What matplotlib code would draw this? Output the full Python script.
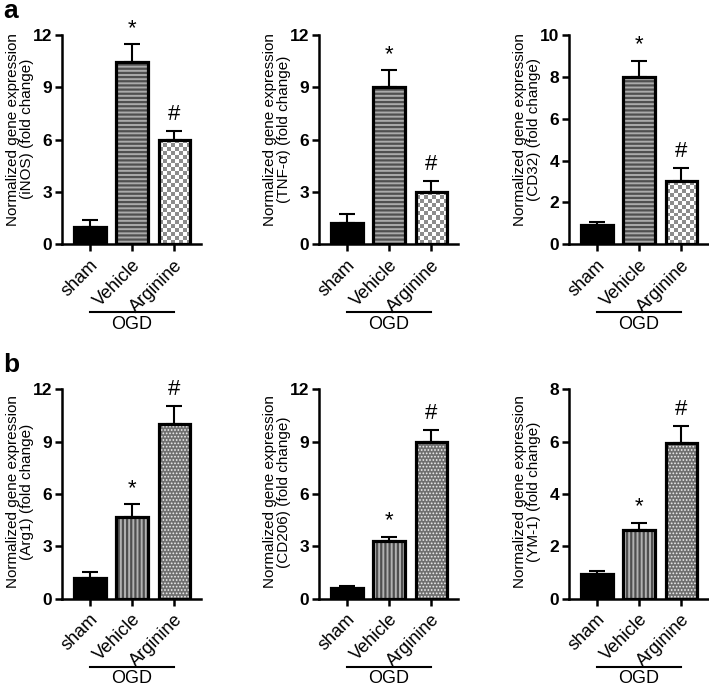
import numpy as np
import matplotlib
matplotlib.use("Agg")
import matplotlib.pyplot as plt
from matplotlib.colors import ListedColormap

plt.rcParams['font.family'] = ['Liberation Sans', 'DejaVu Sans']
plt.rcParams['hatch.linewidth'] = 1.6

# ---- data ----
groups = ['sham', 'Vehicle', 'Arginine']

genes_a = ['iNOS', 'TNF-α', 'CD32']
mean_inos = [1.0, 10.47, 6.0]
sem_inos = [0.38, 1.0, 0.5]
mean_tnf = [1.2, 9.0, 3.0]
sem_tnf = [0.56, 0.97, 0.65]
mean_cd32 = [0.9, 8.0, 3.0]
sem_cd32 = [0.17, 0.76, 0.66]

genes_b = ['Arg1', 'CD206', 'YM-1']
mean_arg1 = [1.2, 4.7, 10.0]
sem_arg1 = [0.35, 0.71, 1.07]
mean_cd206 = [0.6, 3.3, 8.96]
sem_cd206 = [0.1, 0.23, 0.72]
mean_ym1 = [0.95, 2.62, 5.96]
sem_ym1 = [0.12, 0.27, 0.65]

sig_a = ['', '*', '#']
sig_b = ['', '*', '#']

ylims_a = [12, 12, 10]
yticks_a = [np.arange(0, 13, 3), np.arange(0, 13, 3), np.arange(0, 11, 2)]
ylims_b = [12, 12, 8]
yticks_b = [np.arange(0, 13, 3), np.arange(0, 13, 3), np.arange(0, 9, 2)]


def checker_fill(ax, patch, cell_px=4.0, color='#8c8c8c'):
    x0, y0 = patch.get_x(), patch.get_y()
    w, h = patch.get_width(), patch.get_height()
    p0 = ax.transData.transform((x0, y0))
    p1 = ax.transData.transform((x0 + w, y0 + h))
    nx = max(1, int(round((p1[0] - p0[0]) / cell_px)))
    ny = max(1, int(round((p1[1] - p0[1]) / cell_px)))
    grid = np.add.outer(np.arange(ny), np.arange(nx)) % 2
    im = ax.imshow(grid, extent=(x0, x0 + w, y0, y0 + h),
                   cmap=ListedColormap(['white', color]),
                   interpolation='nearest', aspect='auto', origin='lower', zorder=2)
    im.set_clip_path(patch)


def draw_panel(ax, means, sems, gene, ymax, yticks, sig, style, label_y):
    x = np.arange(len(groups))
    ax.set_xlim(-0.66, 2.63)
    ax.set_ylim(0, ymax)

    ax.errorbar(x, means, yerr=[np.zeros(len(sems)), sems], fmt='none',
                ecolor='black', elinewidth=1.5, capsize=6, capthick=1.5, zorder=1)

    bw = 0.74
    fills = ax.bar(x, means, width=bw, linewidth=0, zorder=2)
    fills[0].set_facecolor('black')
    if style == 'a':
        fills[1].set_facecolor('#ababab')
        fills[1].set_edgecolor('#505050')
        fills[1].set_hatch('----')
        fills[2].set_facecolor('none')
        checker_fill(ax, fills[2])
    else:
        fills[1].set_facecolor('#b2b2b2')
        fills[1].set_edgecolor('#4f4f4f')
        fills[1].set_hatch('||||')
        fills[2].set_facecolor('#6f6f6f')
        fills[2].set_edgecolor('#eeeeee')
        fills[2].set_hatch('.....')
        if hasattr(fills[2], 'set_hatch_linewidth'):
            fills[2].set_hatch_linewidth(0.8)
    ax.bar(x, means, width=bw, facecolor='none', edgecolor='black',
           linewidth=2.3, zorder=3)

    for xi, m, s, t in zip(x, means, sems, sig):
        if t:
            ax.annotate(t, (xi, m + s), xytext=(0, 4), textcoords='offset points',
                        ha='center', va='bottom', fontsize=16)

    ax.set_xlim(-0.66, 2.63)
    ax.set_ylim(0, ymax)
    ax.set_yticks(yticks)
    ax.set_xticks(x)
    ax.set_xticklabels(groups, rotation=45, ha='right', rotation_mode='anchor', fontsize=13)
    for lab in ax.get_yticklabels():
        lab.set_fontweight('bold')
        lab.set_fontsize(12.5)
    ax.tick_params(axis='both', width=1.8, length=5, direction='out')
    ax.tick_params(axis='y', pad=2)
    ax.tick_params(axis='x', pad=4)
    for side in ['top', 'right']:
        ax.spines[side].set_visible(False)
    for side in ['left', 'bottom']:
        ax.spines[side].set_linewidth(1.8)

    ax.set_ylabel(f'Normalized gene expression\n({gene}) (fold change)', fontsize=11,
                  linespacing=1.0)
    ax.yaxis.set_label_coords(-0.205, label_y)

    # OGD group bar under the x labels
    trans = ax.get_xaxis_transform()
    ax.plot([0.0, 2.0], [-0.325, -0.325], color='black', linewidth=1.5,
            transform=trans, clip_on=False)
    ax.text(1.0, -0.383, 'OGD', transform=trans, ha='center', va='center', fontsize=13)


fig = plt.figure(figsize=(7.09, 6.88), dpi=100)

lefts = [62 / 709, 319 / 709, 569 / 709]
w = 0.196
h = 0.304
bottom_a = 0.645
bottom_b = 0.13

data_a = [(mean_inos, sem_inos), (mean_tnf, sem_tnf), (mean_cd32, sem_cd32)]
data_b = [(mean_arg1, sem_arg1), (mean_cd206, sem_cd206), (mean_ym1, sem_ym1)]

for i in range(3):
    ax = fig.add_axes([lefts[i], bottom_a, w, h])
    draw_panel(ax, data_a[i][0], data_a[i][1], genes_a[i], ylims_a[i], yticks_a[i],
               sig_a, 'a', 0.55)
for i in range(3):
    ax = fig.add_axes([lefts[i], bottom_b, w, h])
    draw_panel(ax, data_b[i][0], data_b[i][1], genes_b[i], ylims_b[i], yticks_b[i],
               sig_b, 'b', 0.51)

fig.text(0.004, 0.974, 'a', fontsize=19, fontweight='bold', va='baseline')
fig.text(0.004, 0.459, 'b', fontsize=19, fontweight='bold', va='baseline')

fig.savefig('out.png', dpi=100)
